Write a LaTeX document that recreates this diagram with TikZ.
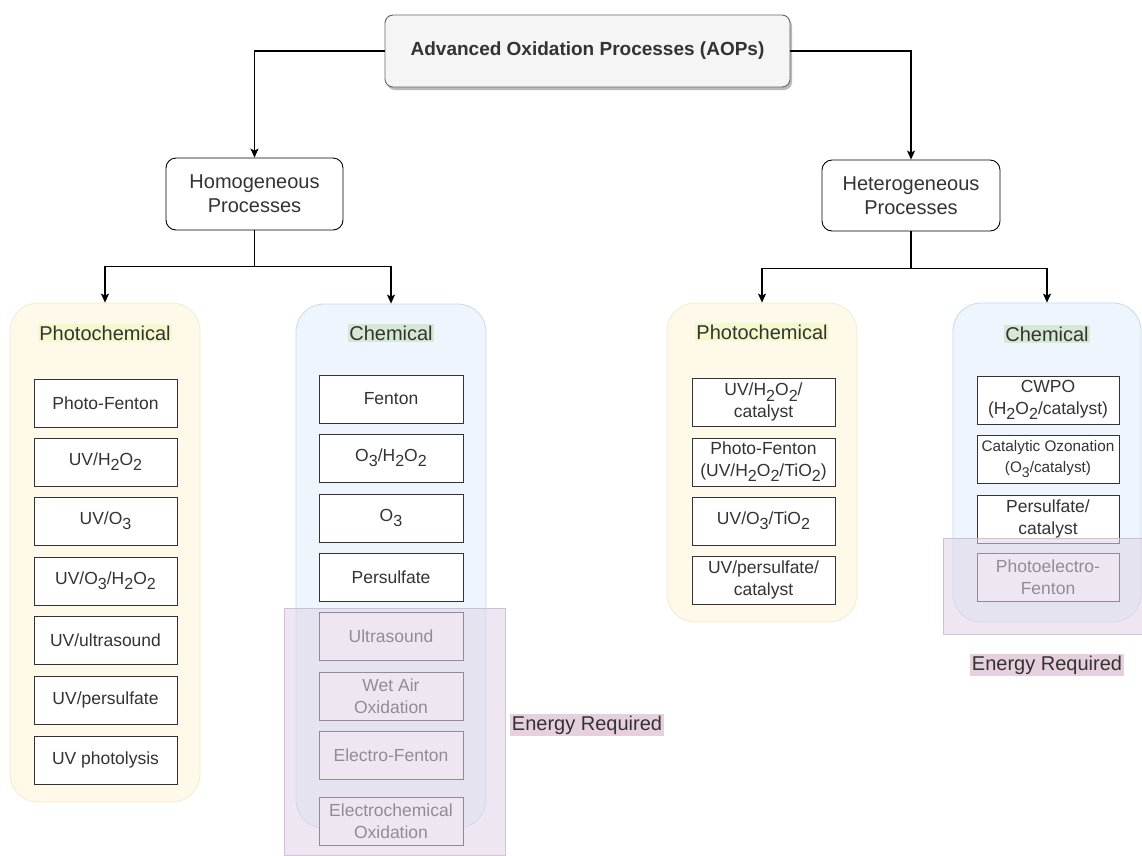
\documentclass[tikz,border=0pt]{standalone}
\usepackage{fontspec}
\usepackage{graphicx}
\setmainfont{Liberation Sans}
\usetikzlibrary{shadows,arrows.meta}
\definecolor{txt}{HTML}{333333}
\definecolor{ylwfill}{HTML}{FFF9E9}
\definecolor{ylwdraw}{HTML}{F3EBCF}
\definecolor{blufill}{HTML}{EEF5FD}
\definecolor{bludraw}{HTML}{C9D9EC}
\definecolor{hlyellow}{HTML}{F4F8CC}
\definecolor{hlgreen}{HTML}{D5E8D4}
\definecolor{enfill}{HTML}{E1D5E7}
\definecolor{endraw}{HTML}{C7B5D1}
\definecolor{enlabel}{HTML}{E6D0DE}
\definecolor{topfill}{HTML}{F5F5F5}
\definecolor{topdraw}{HTML}{666666}
\newcommand\sbx[1]{\raisebox{-0.3em}{\scalebox{0.92}{#1}}}
\tikzset{
  proc/.style={draw=txt, fill=white, line width=0.9pt, minimum width=143pt, minimum height=48pt,
    inner sep=1pt, align=center, text=txt, font=\fontsize{17.5}{21.5}\selectfont},
  grp/.style={rounded corners=28pt, line width=0.8pt, inner sep=0pt},
  ylw/.style={grp, fill=ylwfill, draw=ylwdraw},
  blu/.style={grp, fill=blufill, draw=bludraw},
  glabel/.style={inner sep=1.5pt, text=txt, font=\fontsize{20}{24}\selectfont},
  procbox/.style={draw=black, fill=white, rounded corners=10pt, line width=0.9pt, align=center,
    text=txt, font=\fontsize{20}{24}\selectfont},
  energy/.style={draw=endraw, fill=enfill, fill opacity=0.55, draw opacity=0.8, line width=0.8pt, inner sep=0pt},
  enlab/.style={fill=enlabel, inner sep=1.5pt, text=txt, font=\fontsize{20}{24}\selectfont},
  line/.style={draw=black, line width=1.1pt},
  conn/.style={line, -{Stealth[length=9pt,width=8pt,inset=2pt]}},
}
\begin{document}
\begin{tikzpicture}[x=1pt,y=-1pt]
\useasboundingbox (0,0) rectangle (1142,855);
\fill[white] (0,0) rectangle (1142,855);

% containers
\node[ylw, minimum width=190pt, minimum height=499pt] (lphoto) at (105,552.5) {};
\node[blu, minimum width=190pt, minimum height=524pt] (lchem) at (391,566) {};
\node[ylw, minimum width=190pt, minimum height=319pt] (rphoto) at (762,462.5) {};
\node[blu, minimum width=188pt, minimum height=319pt] (rchem) at (1047,462.5) {};

% container labels
\node[glabel, fill=hlyellow] (lphotolab) at (105,333) {Photochemical};
\node[glabel, fill=hlgreen] (lchemlab) at (391,333) {Chemical};
\node[glabel, fill=hlyellow] (rphotolab) at (762,332) {Photochemical};
\node[glabel, fill=hlgreen] (rchemlab) at (1047,334) {Chemical};

% top
\node[draw=topdraw, fill=topfill, rounded corners=8pt, line width=0.9pt, minimum width=405pt, minimum height=72pt,
  text=txt, font=\bfseries\fontsize{19}{23}\selectfont,
  drop shadow={shadow xshift=2pt, shadow yshift=-3pt, fill=black!45, opacity=0.6}] (aop) at (587.5,51) {Advanced Oxidation Processes (AOPs)};
\node[procbox, minimum width=177pt, minimum height=72pt] (homo) at (254.5,194) {Homogeneous\\Processes};
\node[procbox, minimum width=178pt, minimum height=71pt] (hetero) at (911,195.5) {Heterogeneous\\Processes};

% left photochemical
\node[proc] (lp1) at (105.5,403) {Photo-Fenton};
\node[proc] (lp2) at (105.5,462) {UV/H\sbx2O\sbx2};
\node[proc] (lp3) at (105.5,521) {UV/O\sbx3};
\node[proc] (lp4) at (105.5,581) {UV/O\sbx3/H\sbx2O\sbx2};
\node[proc] (lp5) at (105.5,640) {UV/ultrasound};
\node[proc] (lp6) at (105.5,700) {UV/persulfate};
\node[proc] (lp7) at (105.5,760) {UV photolysis};

% left chemical
\node[proc, minimum width=144pt] (lc1) at (391,399) {Fenton};
\node[proc, minimum width=144pt] (lc2) at (391,458) {O\sbx3/H\sbx2O\sbx2};
\node[proc, minimum width=144pt] (lc3) at (391,518) {O\sbx3};
\node[proc, minimum width=144pt] (lc4) at (391,577) {Persulfate};
\node[proc, minimum width=144pt] (lc5) at (391,636.5) {Ultrasound};
\node[proc, minimum width=144pt] (lc6) at (391,696) {Wet Air\\Oxidation};
\node[proc, minimum width=144pt] (lc7) at (391,755.5) {Electro-Fenton};
\node[proc, minimum width=144pt] (lc8) at (391,821) {Electrochemical\\Oxidation};

% right photochemical
\node[proc] (rp1) at (763.5,402) {UV/H\sbx2O\sbx2/\\catalyst};
\node[proc] (rp2) at (763.5,462) {Photo-Fenton\\(UV/H\sbx2O\sbx2/TiO\sbx2)};
\node[proc] (rp3) at (763.5,521) {UV/O\sbx3/TiO\sbx2};
\node[proc] (rp4) at (763.5,580) {UV/persulfate/\\catalyst};

% right chemical
\node[proc, minimum width=142pt] (rc1) at (1048,400) {CWPO\\(H\sbx2O\sbx2/catalyst)};
\node[proc, minimum width=142pt, font=\fontsize{15.3}{21}\selectfont] (rc2) at (1048,459) {Catalytic Ozonation\\(O\sbx3/catalyst)};
\node[proc, minimum width=142pt] (rc3) at (1048,519) {Persulfate/\\catalyst};
\node[proc, minimum width=142pt] (rc4) at (1048,577) {Photoelectro-\\Fenton};

% energy overlays
\node[energy, minimum width=221pt, minimum height=247pt] (lenergy) at (394.5,731.5) {};
\node[energy, minimum width=199pt, minimum height=96pt] (renergy) at (1042.5,586) {};
\node[enlab] (lenlab) at (587,725) {Energy Required};
\node[enlab] (renlab) at (1047,665) {Energy Required};

% connectors
\draw[conn] (aop.west) -| (homo.north);
\draw[conn] (aop.east) -| (hetero.north);
\draw[line] (homo.south) -- ++(0,36) coordinate (hj);
\draw[conn] (hj) -| (lphoto.north);
\draw[conn] (hj) -| (lchem.north);
\draw[line] (hetero.south) -- ++(0,37) coordinate (rj);
\draw[conn] (rj) -| (rphoto.north);
\draw[conn] (rj) -| (rchem.north);
\end{tikzpicture}
\end{document}
